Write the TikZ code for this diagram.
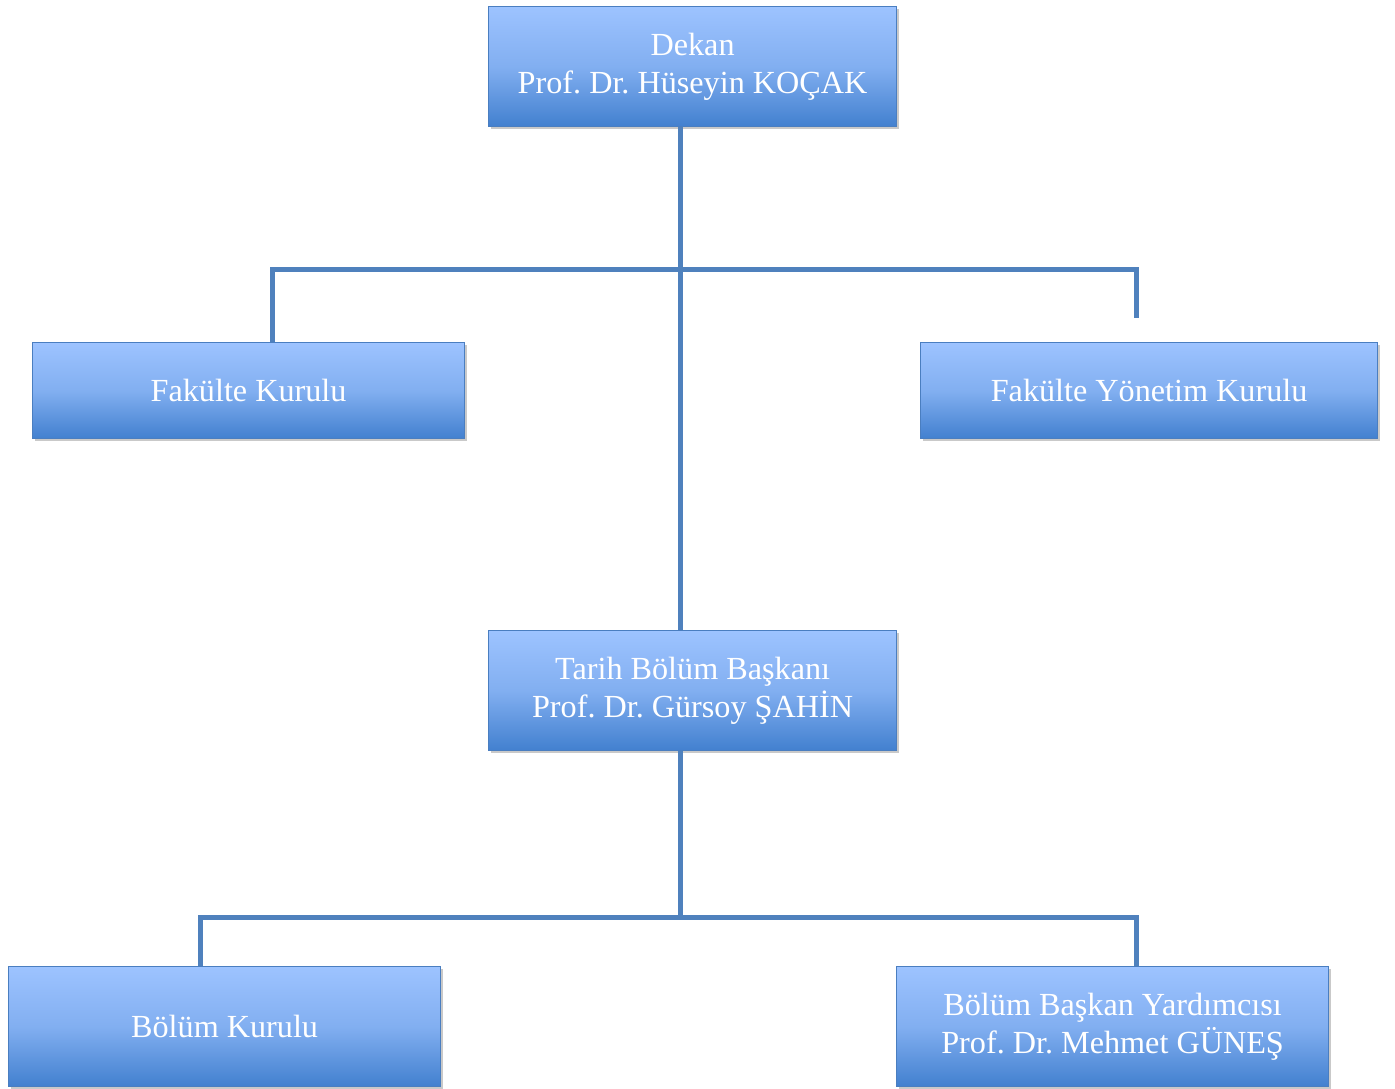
\documentclass[tikz,border=0pt]{standalone}
\usepackage{fontspec}
\setmainfont{Liberation Serif}
\usetikzlibrary{shadows}
\frenchspacing
\definecolor{linec}{HTML}{4F81BD}
\definecolor{boxtop}{HTML}{9DC3FF}
\definecolor{boxbot}{HTML}{4280CF}
\definecolor{boxedge}{HTML}{4A7EC0}
\tikzset{
  orgbox/.style={rectangle, anchor=north west, inner sep=0pt, align=center,
    top color=boxtop, bottom color=boxbot, middle color=boxtop!70!boxbot, draw=boxedge, line width=1.2pt,
    text=white, font=\fontsize{32.2}{38}\selectfont\frenchspacing,
    drop shadow={opacity=0.35, shadow xshift=2pt, shadow yshift=-2pt, fill=black!60}},
  conn/.style={draw=linec, line width=5pt, line cap=butt, line join=miter}
}
\begin{document}
\begin{tikzpicture}[x=1pt,y=-1pt]
\useasboundingbox[fill=white] (0,0) rectangle (1395,1088);
\node[orgbox, minimum width=408pt, minimum height=120pt] (dekan) at (488,6) {Dekan\\Prof. Dr. Hüseyin KOÇAK};
\node[orgbox, minimum width=432pt, minimum height=96pt] (fk) at (32,342) {Fakülte Kurulu};
\node[orgbox, minimum width=457pt, minimum height=96pt] (fyk) at (920,342) {Fakülte Yönetim Kurulu};
\node[orgbox, minimum width=408pt, minimum height=120pt] (tarih) at (488,630) {Tarih Bölüm Başkanı\\Prof. Dr. Gürsoy ŞAHİN};
\node[orgbox, minimum width=432pt, minimum height=120pt] (bk) at (8,966) {Bölüm Kurulu};
\node[orgbox, minimum width=432pt, minimum height=120pt] (bby) at (896,966) {Bölüm Başkan Yardımcısı\\Prof. Dr. Mehmet GÜNEŞ};
\coordinate (top) at (680,126);
\coordinate (fyend) at (1136,318);
\coordinate (j2) at (680,917);
\draw[conn] (top |- dekan.south) -- (top |- tarih.north);
\draw[conn] (fk.north -| 272,0) -- (272,269) -- (1136,269) -- (fyend);
\draw[conn] (top |- tarih.south) -- (j2);
\draw[conn] (bk.north -| 200,0) -- (200,917) -- (1136,917) -- (bby.north -| 1136,0);
\end{tikzpicture}
\end{document}
